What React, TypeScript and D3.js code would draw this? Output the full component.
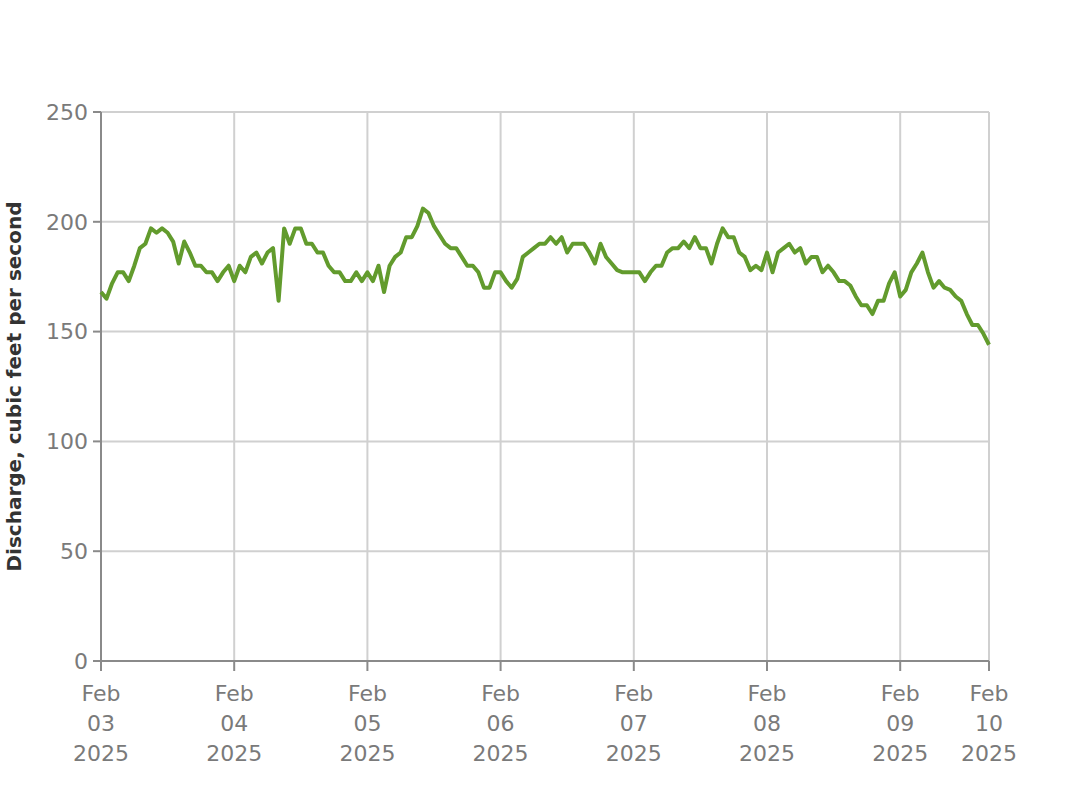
import * as d3 from 'd3';

// hourly discharge readings (cfs), one array per day
const feb03 = [168, 165, 172, 177, 177, 173, 180, 188, 190, 197, 195, 197, 195, 191, 181, 191, 186, 180, 180, 177, 177, 173, 177, 180];
const feb04 = [173, 180, 177, 184, 186, 181, 186, 188, 164, 197, 190, 197, 197, 190, 190, 186, 186, 180, 177, 177, 173, 173, 177, 173];
const feb05 = [177, 173, 180, 168, 180, 184, 186, 193, 193, 198, 206, 204, 198, 194, 190, 188, 188, 184, 180, 180, 177, 170, 170, 177];
const feb06 = [177, 173, 170, 174, 184, 186, 188, 190, 190, 193, 190, 193, 186, 190, 190, 190, 186, 181, 190, 184, 181, 178, 177, 177];
const feb07 = [177, 177, 173, 177, 180, 180, 186, 188, 188, 191, 188, 193, 188, 188, 181, 190, 197, 193, 193, 186, 184, 178, 180, 178];
const feb08 = [186, 177, 186, 188, 190, 186, 188, 181, 184, 184, 177, 180, 177, 173, 173, 171, 166, 162, 162, 158, 164, 164, 172, 177];
const feb09 = [166, 169, 177, 181, 186, 177, 170, 173, 170, 169, 166, 164, 158, 153, 153, 149, 144];

const startTime = Date.UTC(2025, 1, 3, 0, 0);
const hour = 3600 * 1000;

const yTicks = [0, 50, 100, 150, 200, 250];
const tickDays = [3, 4, 5, 6, 7, 8, 9];
const tickLabels = [
  ['Feb', '03', '2025'],
  ['Feb', '04', '2025'],
  ['Feb', '05', '2025'],
  ['Feb', '06', '2025'],
  ['Feb', '07', '2025'],
  ['Feb', '08', '2025'],
  ['Feb', '09', '2025'],
  ['Feb', '10', '2025'],
];
const yTitle = 'Discharge, cubic feet per second';

const values = [...feb03, ...feb04, ...feb05, ...feb06, ...feb07, ...feb08, ...feb09];
const data = values.map((v, i) => ({ t: new Date(startTime + i * hour), v }));

export default function App() {
  const width = 1092;
  const height = 797;
  const margin = { top: 112, right: 103, bottom: 136, left: 101 };

  const x = d3.scaleUtc()
    .domain(d3.extent(data, d => d.t) as [Date, Date])
    .range([margin.left, width - margin.right]);

  const y = d3.scaleLinear()
    .domain([0, 250])
    .range([height - margin.bottom, margin.top]);

  const line = d3.line<{ t: Date; v: number }>()
    .x(d => x(d.t))
    .y(d => y(d.v));

  // day ticks plus the end of the record
  const xTicks = [...tickDays.map(d => new Date(Date.UTC(2025, 1, d))), x.domain()[1]];

  const font = '"DejaVu Sans", Verdana, sans-serif';
  const x0 = margin.left;
  const x1 = width - margin.right;
  const y0 = height - margin.bottom;

  return (
    <svg width={width} height={height} style={{ position: 'absolute', left: 0, top: 0, background: '#fff' }}>
      {/* grid */}
      {yTicks.map(t => (
        <line key={'gy' + t} x1={x0} x2={x1} y1={y(t)} y2={y(t)} stroke="#d0d0d0" strokeWidth={2} />
      ))}
      {xTicks.map((t, i) => (
        <line key={'gx' + i} x1={x(t)} x2={x(t)} y1={margin.top} y2={y0} stroke="#d0d0d0" strokeWidth={2} />
      ))}

      {/* axes */}
      <line x1={x0} x2={x0} y1={margin.top} y2={y0} stroke="#8a8a8a" strokeWidth={2} />
      <line x1={x0} x2={x1} y1={y0} y2={y0} stroke="#8a8a8a" strokeWidth={2} />

      {yTicks.map(t => (
        <g key={'ty' + t} transform={`translate(${x0},${y(t)})`}>
          <line x1={-8} x2={0} stroke="#8a8a8a" strokeWidth={2} />
          <text x={-13} dy="0.35em" textAnchor="end" fontSize={22} fill="#7a7a7a" fontFamily={font}>{t}</text>
        </g>
      ))}

      {xTicks.map((t, i) => (
        <g key={'tx' + i} transform={`translate(${x(t)},${y0})`}>
          <line y1={0} y2={10} stroke="#8a8a8a" strokeWidth={2} />
          {tickLabels[i].map((s, j) => (
            <text key={j} y={40 + j * 30} textAnchor="middle" fontSize={22} fill="#7a7a7a" fontFamily={font}>{s}</text>
          ))}
        </g>
      ))}

      <text
        transform={`translate(21,${(margin.top + y0) / 2}) rotate(-90)`}
        textAnchor="middle"
        fontSize={20}
        fontWeight="bold"
        fill="#333"
        fontFamily={font}
      >
        {yTitle}
      </text>

      {/* discharge line */}
      <path d={line(data) ?? ''} fill="none" stroke="#629b2d" strokeWidth={4} strokeLinejoin="round" />
    </svg>
  );
}
